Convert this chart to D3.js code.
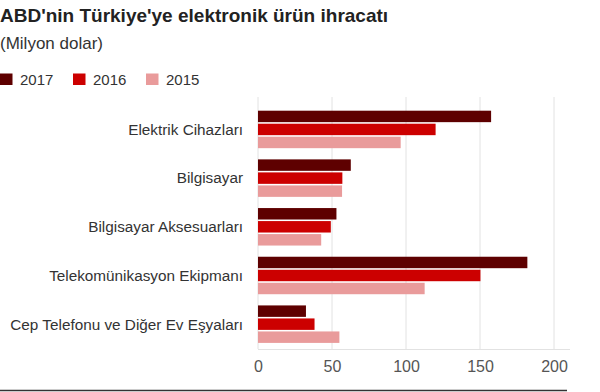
<!DOCTYPE html>
<html><head><meta charset="utf-8">
<script src="https://cdn.jsdelivr.net/npm/d3@7"></script>
<style>body{margin:0;background:#fff;}svg{display:block;font-family:"Liberation Sans",Arial,sans-serif;}</style>
</head><body>
<svg id="c" width="600" height="392"></svg>
<script>
const categories = ["Elektrik Cihazları","Bilgisayar","Bilgisayar Aksesuarları","Telekomünikasyon Ekipmanı","Cep Telefonu ve Diğer Ev Eşyaları"];
const seriesNames = ["2017","2016","2015"];
const values2017 = [157.5, 62.7, 53, 182, 32.4];
const values2016 = [120, 57, 49.2, 150.3, 38.2];
const values2015 = [96.4, 56.8, 42.7, 112.6, 55];
const xTicks = [0, 50, 100, 150, 200];
const colors = ["#5e0000", "#cc0000", "#e99b9b"];

const seriesValues = [values2017, values2016, values2015];
const svg = d3.select("#c");

svg.append("text").attr("x",0).attr("y",22).attr("font-size",19).attr("font-weight","bold").attr("fill","#222")
  .text("ABD'nin Türkiye'ye elektronik ürün ihracatı");
svg.append("text").attr("x",0).attr("y",49).attr("font-size",17).attr("fill","#333").text("(Milyon dolar)");

// legend
const legX = [0, 73, 146];
seriesNames.forEach((s,i)=>{
  svg.append("rect").attr("x",legX[i]).attr("y",73.5).attr("width",12.5).attr("height",11.5).attr("fill",colors[i]);
  svg.append("text").attr("x",legX[i]+20).attr("y",85).attr("font-size",15).attr("fill","#333").text(s);
});

const x = d3.scaleLinear().domain([0,200]).range([258,554]);
const y0 = d3.scaleBand().domain(categories).range([105.1,348.5]).paddingInner(0.23).paddingOuter(0.115);
const y1 = d3.scaleBand().domain(seriesNames).range([0,y0.bandwidth()]).paddingInner(0.12);

// grid
svg.append("g").selectAll("line").data(xTicks).join("line")
  .attr("x1",d=>x(d)).attr("x2",d=>x(d)).attr("y1",97).attr("y2",349)
  .attr("stroke","#e2e2e2").attr("stroke-width",1);
svg.append("line").attr("x1",258).attr("x2",570).attr("y1",349.5).attr("y2",349.5).attr("stroke","#e2e2e2");

// bars
const g = svg.append("g");
categories.forEach((c,ci)=>{
  seriesNames.forEach((s,si)=>{
    g.append("rect").attr("x",x(0)).attr("y",y0(c)+y1(s))
      .attr("width",x(seriesValues[si][ci])-x(0)).attr("height",y1.bandwidth())
      .attr("fill",colors[si]);
  });
});

// category labels
svg.append("g").selectAll("text").data(categories).join("text")
  .attr("x",243).attr("y",d=>y0(d)+y0.bandwidth()/2).attr("dy","0.35em")
  .attr("text-anchor","end").attr("font-size",15.3).attr("fill","#333").text(d=>d);

// x axis
const xAxis = d3.axisBottom(x).tickValues(xTicks).tickSize(0).tickPadding(0);
const ax = svg.append("g").attr("transform","translate(0,361)").call(xAxis);
ax.select(".domain").remove();
ax.selectAll("text").attr("font-size",16).attr("fill","#555").attr("font-family","Liberation Sans, Arial, sans-serif");

// bottom rule
svg.append("line").attr("x1",0).attr("x2",567).attr("y1",390.5).attr("y2",390.5).attr("stroke","#333").attr("stroke-width",1.5);
</script>
</body></html>
